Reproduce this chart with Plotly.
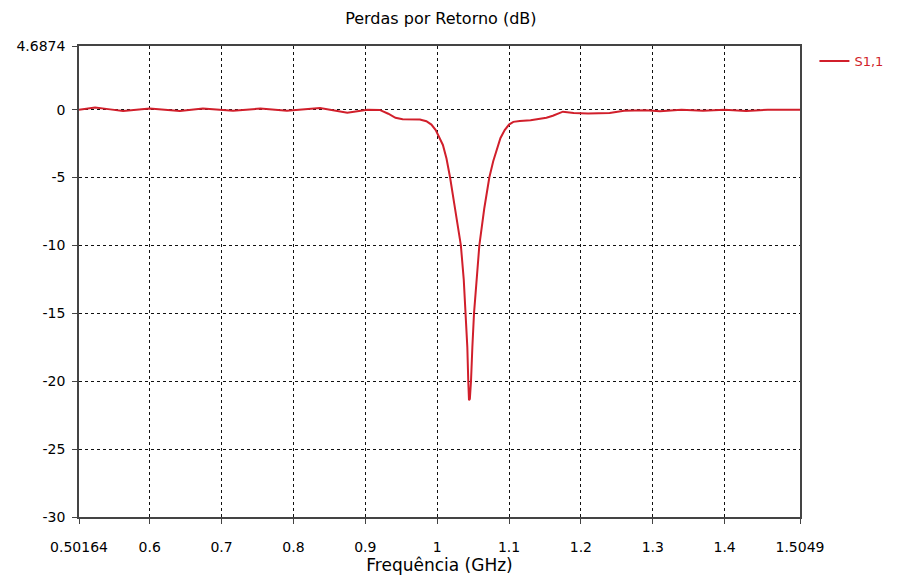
import plotly.graph_objects as go

freq = [0.50164, 0.524, 0.545, 0.563, 0.6, 0.642, 0.674, 0.716, 0.754, 0.791,
        0.837, 0.875, 0.903, 0.92, 0.932, 0.942, 0.952, 0.976, 0.985, 0.992,
        0.998, 1.003, 1.008, 1.013, 1.018, 1.024, 1.029, 1.033, 1.037, 1.040,
        1.042, 1.0433, 1.0443, 1.0455, 1.0471, 1.049, 1.0513, 1.055, 1.0587, 1.0655,
        1.0726, 1.078, 1.083, 1.088, 1.094, 1.1, 1.106, 1.115, 1.13, 1.143,
        1.152, 1.161, 1.175, 1.19, 1.21, 1.24, 1.26, 1.29, 1.31, 1.34,
        1.37, 1.40, 1.43, 1.46, 1.5049]
s11 = [0.0, 0.15, 0.02, -0.1, 0.08, -0.1, 0.08, -0.08, 0.08, -0.08,
       0.12, -0.22, 0.0, -0.02, -0.3, -0.6, -0.7, -0.72, -0.85, -1.1,
       -1.5, -2.0, -2.6, -3.6, -5.0, -7.0, -8.7, -10.0, -12.5, -15.0,
       -17.5, -20.0, -21.4, -21.3, -20.0, -17.5, -15.0, -12.5, -10.0, -7.3,
       -5.0, -3.8, -2.9, -2.1, -1.5, -1.1, -0.9, -0.83, -0.78, -0.7,
       -0.6, -0.45, -0.15, -0.25, -0.28, -0.25, -0.08, -0.05, -0.12, 0.0,
       -0.08, 0.0, -0.1, 0.0, 0.0]

x_ticks = [0.50164, 0.6, 0.7, 0.8, 0.9, 1.0, 1.1, 1.2, 1.3, 1.4, 1.5049]
x_labels = ["0.50164", "0.6", "0.7", "0.8", "0.9", "1", "1.1", "1.2", "1.3", "1.4", "1.5049"]
y_ticks = [4.6874, 0, -5, -10, -15, -20, -25, -30]
y_labels = ["4.6874", "0", "-5", "-10", "-15", "-20", "-25", "-30"]

fig = go.Figure()
fig.add_trace(go.Scatter(x=freq, y=s11, mode="lines", name="S1,1",
                         line=dict(color="#d11f2b", width=2)))

font_family = "DejaVu Sans, Verdana, sans-serif"
fig.update_layout(
    width=909, height=582,
    margin=dict(l=79, r=109, t=46, b=65),
    paper_bgcolor="white", plot_bgcolor="white",
    title=dict(text="Perdas por Retorno (dB)", x=0.485, xanchor="center",
               y=0.968, yanchor="middle",
               font=dict(family=font_family, size=16, color="black")),
    font=dict(family=font_family, size=14, color="black"),
    showlegend=True,
    legend=dict(x=1.02, y=1.0, xanchor="left", yanchor="top",
                font=dict(family=font_family, size=13, color="#d11f2b"),
                bgcolor="rgba(0,0,0,0)", itemwidth=30),
)
fig.update_xaxes(
    range=[0.50164, 1.5049], tickvals=x_ticks, ticktext=x_labels,
    showgrid=True, gridcolor="#111", griddash="3px,3px", gridwidth=1,
    showline=True, linecolor="#444", linewidth=1.5, mirror=True,
    ticks="outside", ticklen=5, tickcolor="#444", zeroline=False,
    ticklabelstandoff=11, automargin=False,
    title=dict(text="Frequência (GHz)", font=dict(family=font_family, size=17, color="black"),
               standoff=6),
    tickfont=dict(family=font_family, size=14, color="black"),
)
fig.update_yaxes(
    range=[-30, 4.6874], tickvals=y_ticks, ticktext=y_labels,
    showgrid=True, gridcolor="#111", griddash="3px,3px", gridwidth=1,
    showline=True, linecolor="#444", linewidth=1.5, mirror=True,
    ticks="outside", ticklen=5, tickcolor="#444", zeroline=False,
    ticklabelstandoff=4, automargin=False,
    tickfont=dict(family=font_family, size=14, color="black"),
)

fig.write_html("out.html")
